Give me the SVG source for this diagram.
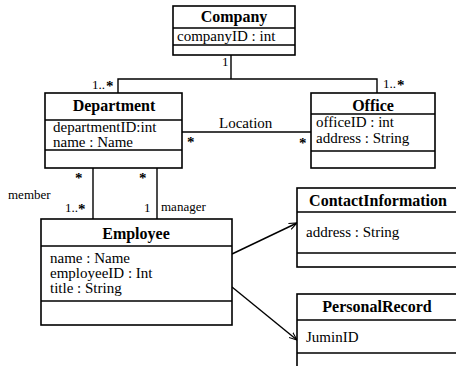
<svg xmlns="http://www.w3.org/2000/svg" width="456" height="366" viewBox="0 0 456 366" font-family="Liberation Serif, DejaVu Serif, serif">
<style>
.box{fill:#fff;stroke:#000;stroke-width:1.6}
.div{stroke:#000;stroke-width:1.4}
text{font-family:'Liberation Serif','DejaVu Serif','Noto Serif',serif}
.t{font-size:16px;font-weight:bold;text-anchor:middle;fill:#000}
.a{font-size:15px;fill:#000}
.m{font-size:13px;fill:#000}
.s{font-size:15px;font-weight:bold;fill:#000}
.c{fill:none;stroke:#000;stroke-width:1.4}
</style>
<defs>
<marker id="arr" viewBox="0 0 10 10" refX="10" refY="5" markerWidth="8" markerHeight="8" orient="auto" markerUnits="userSpaceOnUse">
<path d="M0,1 L10,5 L0,9" fill="none" stroke="#000" stroke-width="1.4"/>
</marker>
</defs>
<rect width="456" height="366" fill="#fff"/>
<g id="connectors">
<path class="c" d="M231,55 V79 M118,93 V79 H377 V93"/>
<path class="c" d="M182,132 H311"/>
<path class="c" d="M93,168 V219 M157,168 V219"/>
<path class="c" d="M232,254 L297,223" marker-end="url(#arr)"/>
<path class="c" d="M232,287 L297,340" marker-end="url(#arr)"/>
<text class="m" x="222" y="66">1</text>
<text class="m" x="92" y="89">1..</text><text class="s" x="106" y="91">*</text>
<text class="m" x="383" y="88">1..</text><text class="s" x="397" y="90">*</text>
<text class="a" x="219" y="128">Location</text>
<text class="s" x="187" y="147">*</text>
<text class="s" x="299" y="148">*</text>
<text class="s" x="75" y="183">*</text>
<text class="s" x="139" y="183">*</text>
<text class="m" x="8" y="199">member</text>
<text class="m" x="65" y="212">1..</text><text class="s" x="78" y="214">*</text>
<text class="m" x="144" y="212">1</text>
<text class="m" x="161" y="211">manager</text>
</g>
<g id="company">
<rect class="box" x="173" y="6" width="122" height="49"/>
<path class="div" d="M173,28 H295 M173,45 H295"/>
<text class="t" x="234" y="22">Company</text>
<text class="a" x="177" y="41">companyID : int</text>
</g>
<g id="department">
<rect class="box" x="45" y="93" width="137" height="75"/>
<path class="div" d="M45,120 H182 M45,150 H182"/>
<text class="t" x="114" y="111">Department</text>
<text class="a" x="53" y="132">departmentID:int</text>
<text class="a" x="53" y="147">name : Name</text>
</g>
<g id="office">
<rect class="box" x="311" y="93" width="124" height="75"/>
<path class="div" d="M311,114 H435 M311,151 H435"/>
<text class="t" x="373" y="111">Office</text>
<text class="a" x="316" y="127">officeID : int</text>
<text class="a" x="316" y="143">address : String</text>
</g>
<g id="employee">
<rect class="box" x="41" y="219" width="191" height="106"/>
<path class="div" d="M41,246 H232 M41,301 H232"/>
<text class="t" x="136" y="239">Employee</text>
<text class="a" x="50" y="263">name : Name</text>
<text class="a" x="50" y="278">employeeID : Int</text>
<text class="a" x="50" y="293">title : String</text>
</g>
<g id="contactinformation">
<rect class="box" x="297" y="188" width="160" height="79"/>
<path class="div" d="M297,212 H457 M297,253 H457"/>
<text class="t" x="378" y="206">ContactInformation</text>
<text class="a" x="306" y="237">address : String</text>
</g>
<g id="personalrecord">
<rect class="box" x="297" y="294" width="160" height="80"/>
<path class="div" d="M297,320 H457 M297,353 H457"/>
<text class="t" x="377" y="312">PersonalRecord</text>
<text class="a" x="306" y="342">JuminID</text>
</g>
</svg>
